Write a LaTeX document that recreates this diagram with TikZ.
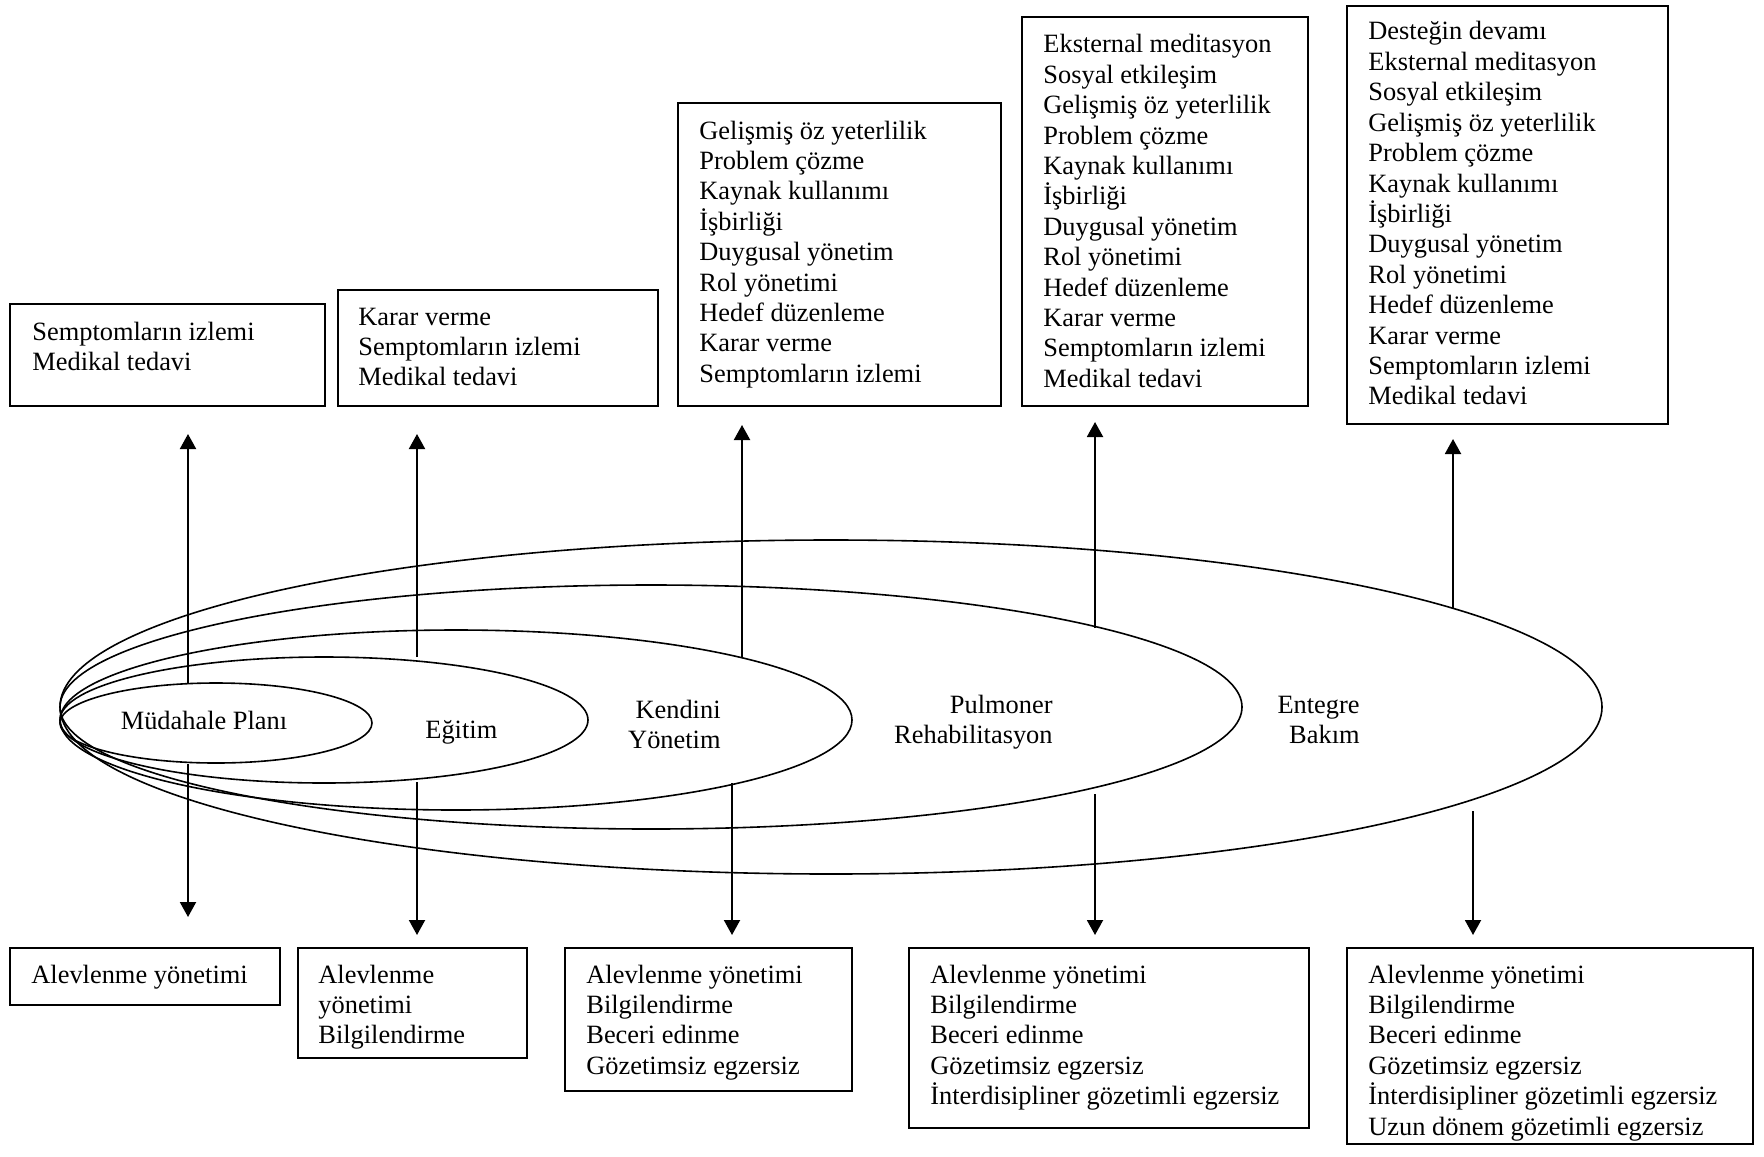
\documentclass[tikz,border=0pt]{standalone}
\usepackage{fontspec}
\setmainfont{Liberation Serif}
\usetikzlibrary{shapes.geometric,arrows.meta,fit}
\newcommand{\ltext}[1]{\parbox[t]{250pt}{\raggedright\fontsize{13.2}{15.2}\selectfont #1}}
\newcommand{\rtext}[1]{\parbox[t]{150pt}{\raggedleft\fontsize{13.2}{15.2}\selectfont #1}}
\begin{document}
\begin{tikzpicture}[x=0.5pt,y=-0.5pt,
  box/.style={draw,line width=1pt,inner sep=0pt},
  txt/.style={inner sep=0pt,anchor=base west},
  rtxt/.style={inner sep=0pt,anchor=base east},
  ell/.style={draw,ellipse,line width=0.8pt,inner sep=0pt},
  arr/.style={line width=1pt,-{Triangle[length=7.5pt,width=8pt]}}]
\useasboundingbox[fill=white] (0,0) rectangle (1764,1156);
% ellipses
\node[ell,minimum width=156pt,minimum height=40pt] (e1) at (216,723) {};
\node[ell,minimum width=264pt,minimum height=63pt] (e2) at (324,720) {};
\node[ell,minimum width=396pt,minimum height=90pt] (e3) at (456,720) {};
\node[ell,minimum width=591pt,minimum height=122pt] (e4) at (651,707) {};
\node[ell,minimum width=771pt,minimum height=167pt] (e5) at (831,707) {};
% ellipse labels
\node[inner sep=0pt,anchor=base,font=\fontsize{13.2}{15.2}\selectfont] (l1) at (204,729) {Müdahale Planı};
\node[txt,font=\fontsize{13.2}{15.2}\selectfont] (l2) at (425,738) {Eğitim};
\node[rtxt] (l3) at (721,718) {\rtext{Kendini\\Yönetim}};
\node[rtxt] (l4) at (1053,713) {\rtext{Pulmoner\\Rehabilitasyon}};
\node[rtxt] (l5) at (1360,713) {\rtext{Entegre\\Bakım}};
% top boxes
\node[box,fit={(10,304) (325,406)}] (t1) {};
\node[box,fit={(338,290) (658,406)}] (t2) {};
\node[box,fit={(678,103) (1001,406)}] (t3) {};
\node[box,fit={(1022,17) (1308,406)}] (t4) {};
\node[box,fit={(1347,6) (1668,424)}] (t5) {};
\node[txt] (tt1) at (32,340) {\ltext{Semptomların izlemi\\Medikal tedavi}};
\node[txt] (tt2) at (358,325) {\ltext{Karar verme\\Semptomların izlemi\\Medikal tedavi}};
\node[txt] (tt3) at (699,139) {\ltext{Gelişmiş öz yeterlilik\\Problem çözme\\Kaynak kullanımı\\İşbirliği\\Duygusal yönetim\\Rol yönetimi\\Hedef düzenleme\\Karar verme\\Semptomların izlemi}};
\node[txt] (tt4) at (1043,53) {\ltext{Eksternal meditasyon\\Sosyal etkileşim\\Gelişmiş öz yeterlilik\\Problem çözme\\Kaynak kullanımı\\İşbirliği\\Duygusal yönetim\\Rol yönetimi\\Hedef düzenleme\\Karar verme\\Semptomların izlemi\\Medikal tedavi}};
\node[txt] (tt5) at (1368,40) {\ltext{Desteğin devamı\\Eksternal meditasyon\\Sosyal etkileşim\\Gelişmiş öz yeterlilik\\Problem çözme\\Kaynak kullanımı\\İşbirliği\\Duygusal yönetim\\Rol yönetimi\\Hedef düzenleme\\Karar verme\\Semptomların izlemi\\Medikal tedavi}};
% bottom boxes
\node[box,fit={(10,948) (280,1005)}] (b1) {};
\node[box,fit={(298,948) (527,1058)}] (b2) {};
\node[box,fit={(565,948) (852,1091)}] (b3) {};
\node[box,fit={(909,948) (1309,1128)}] (b4) {};
\node[box,fit={(1347,948) (1753,1144)}] (b5) {};
\node[txt] (bt1) at (31,983) {\ltext{Alevlenme yönetimi}};
\node[txt] (bt2) at (318,983) {\ltext{Alevlenme\\yönetimi\\Bilgilendirme}};
\node[txt] (bt3) at (586,983) {\ltext{Alevlenme yönetimi\\Bilgilendirme\\Beceri edinme\\Gözetimsiz egzersiz}};
\node[txt] (bt4) at (930,983) {\ltext{Alevlenme yönetimi\\Bilgilendirme\\Beceri edinme\\Gözetimsiz egzersiz\\İnterdisipliner gözetimli egzersiz}};
\node[txt] (bt5) at (1368,983) {\ltext{Alevlenme yönetimi\\Bilgilendirme\\Beceri edinme\\Gözetimsiz egzersiz\\İnterdisipliner gözetimli egzersiz\\Uzun dönem gözetimli egzersiz}};
% arrow end points
\coordinate (us1) at (188,684); \coordinate (ue1) at (188,434);
\coordinate (us2) at (417,657); \coordinate (ue2) at (417,434);
\coordinate (us3) at (742,657); \coordinate (ue3) at (742,425);
\coordinate (us4) at (1095,628); \coordinate (ue4) at (1095,422);
\coordinate (us5) at (1453,609); \coordinate (ue5) at (1453,439);
\coordinate (ds1) at (188,764); \coordinate (de1) at (188,917);
\coordinate (ds2) at (417,782); \coordinate (de2) at (417,935);
\coordinate (ds3) at (732,783); \coordinate (de3) at (732,935);
\coordinate (ds4) at (1095,794); \coordinate (de4) at (1095,935);
\coordinate (ds5) at (1473,811); \coordinate (de5) at (1473,935);
\foreach \i in {1,...,5}{
  \draw[arr] (us\i) -- (ue\i);
  \draw[arr] (ds\i) -- (de\i);
}
\end{tikzpicture}
\end{document}
